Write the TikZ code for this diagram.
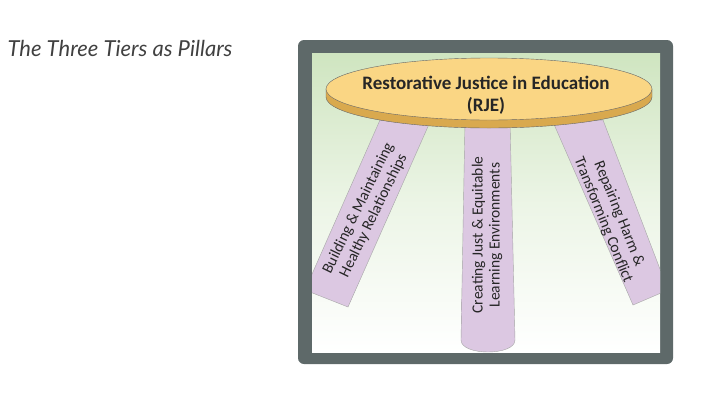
\documentclass[tikz,border=0pt]{standalone}
\usepackage{fontspec}
\setmainfont{Carlito}
\newfontfamily\latofont{Lato}
\definecolor{frame}{HTML}{5E6969}
\definecolor{legc}{HTML}{DCC8E2}
\definecolor{topc}{HTML}{FAD684}
\definecolor{bandc}{HTML}{D9A94E}
\definecolor{bgtop}{HTML}{CFE5C0}
\pgfdeclarehorizontalshading{legshade}{100bp}{color(0bp)=(gray!60);color(14bp)=(legc);color(86bp)=(legc);color(100bp)=(gray!75)}
\tikzset{
  legtxt/.style={font=\fontsize{15.5}{17}\selectfont, align=center, text=black!85},
  leg/.style={shading=legshade, draw=gray!70, line width=0.4pt}
}
\begin{document}
\begin{tikzpicture}[x=1pt,y=-1pt]
\useasboundingbox (0,0) rectangle (720,405);
\node[anchor=west, font=\latofont\itshape\fontsize{22}{24}\selectfont, text=black!75] (title) at (4,48) {The Three Tiers as Pillars};
\fill[frame, rounded corners=6pt] (298,40) rectangle (673,364);
\shade[top color=bgtop, bottom color=white, middle color=white!60!bgtop] (312,53) rectangle (660,352);
\begin{scope}
\clip (312,53) rectangle (660,352);
\path[leg, shading angle=-25] (380,120) -- (430,122) -- (348,307) -- (305,290) -- cycle;
\path[leg] (465,120) -- (510,120) -- (515,340) .. controls (515,356) and (461,356) .. (461,340) -- cycle;
\path[leg, shading angle=22] (553,122) -- (603,120) -- (668,290) -- (633,305) -- cycle;
\end{scope}
\node[legtxt, rotate=64] (l1) at (366,212) {Building \& Maintaining\\Healthy Relationships};
\node[legtxt, rotate=90] (l2) at (487,235) {Creating Just \& Equitable\\Learning Environments};
\node[legtxt, rotate=-68] (l3) at (611,217) {Repairing Harm \&\\Transforming Conflict};
\fill[bandc, draw=gray!80!black, line width=0.4pt] (326,89) -- (326,97) arc[start angle=180, end angle=0, x radius=163, y radius=31] -- (652,89) -- cycle;
\fill[topc, draw=gray!80!black, line width=0.4pt] (489,89) ellipse [x radius=163, y radius=31];
\node[font=\bfseries\fontsize{19}{22}\selectfont, align=center, text=black!85] (top) at (486,95) {Restorative Justice in Education\\(RJE)};
\end{tikzpicture}
\end{document}
